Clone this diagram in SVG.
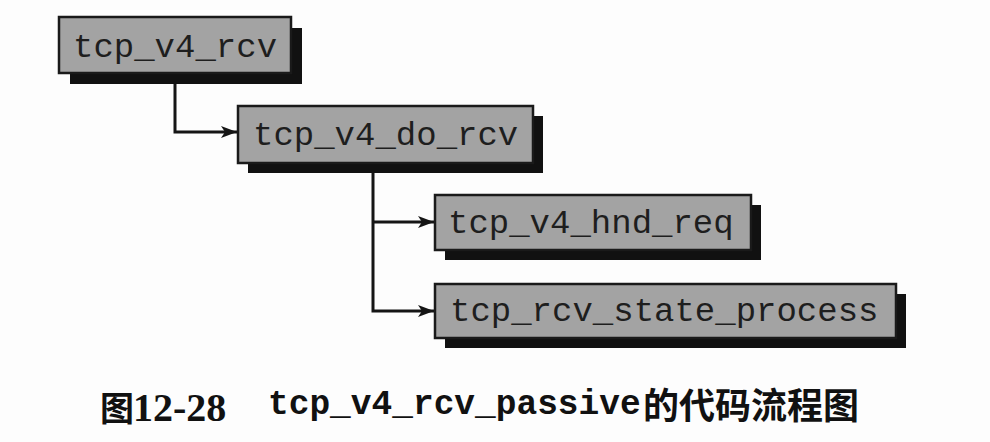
<svg xmlns="http://www.w3.org/2000/svg" width="990" height="442" viewBox="0 0 990 442">
<style>
.shadow{fill:#111}
.box{fill:#a3a3a3;stroke:#1a1a1a;stroke-width:2.5}
.lbl{font-family:"Liberation Mono","DejaVu Sans Mono",monospace;font-size:34px;fill:#1e1e1e}
.conn{fill:none;stroke:#151515;stroke-width:3}
.cap{fill:#111}
</style>
<defs>
<marker id="arr" markerUnits="userSpaceOnUse" markerWidth="18" markerHeight="14" refX="16" refY="6" orient="auto">
<path d="M0,0 L16,6 L0,12 L4,6 z" fill="#151515"/>
</marker>
</defs>
<rect width="990" height="442" fill="#fdfdfd"/>
<g id="connectors">
<path class="conn" d="M175,73 V132 H237" marker-end="url(#arr)"/>
<path class="conn" d="M373,163 V311 H434" marker-end="url(#arr)"/>
<path class="conn" d="M373,222 H434" marker-end="url(#arr)"/>
</g>
<g id="node-tcp_v4_rcv">
<rect class="shadow" x="70" y="28" width="232" height="56"/>
<rect class="box" x="59" y="17" width="232" height="56"/>
<text class="lbl" x="73" y="57">tcp_v4_rcv</text>
</g>
<g id="node-tcp_v4_do_rcv">
<rect class="shadow" x="248" y="116" width="295" height="57"/>
<rect class="box" x="238" y="106" width="295" height="57"/>
<text class="lbl" x="253" y="145">tcp_v4_do_rcv</text>
</g>
<g id="node-tcp_v4_hnd_req">
<rect class="shadow" x="445" y="205" width="316" height="55"/>
<rect class="box" x="435" y="195" width="316" height="55"/>
<text class="lbl" x="448" y="233">tcp_v4_hnd_req</text>
</g>
<g id="node-tcp_rcv_state_process">
<rect class="shadow" x="445" y="294" width="461" height="54"/>
<rect class="box" x="435" y="284" width="461" height="54"/>
<text class="lbl" x="450" y="321">tcp_rcv_state_process</text>
</g>
<g id="caption" class="cap">
<text x="100" y="421" font-family="'Noto Sans CJK SC',sans-serif" font-weight="bold" font-size="34">图</text>
<text x="133" y="421" font-family="'Liberation Serif',serif" font-weight="bold" font-size="40">12-28</text>
<text x="268" y="414" font-family="'Liberation Mono',monospace" font-weight="bold" font-size="34.5">tcp_v4_rcv_passive</text>
<text x="643" y="419" font-family="'Noto Sans CJK SC',sans-serif" font-weight="bold" font-size="36">的代码流程图</text>
</g>
</svg>
